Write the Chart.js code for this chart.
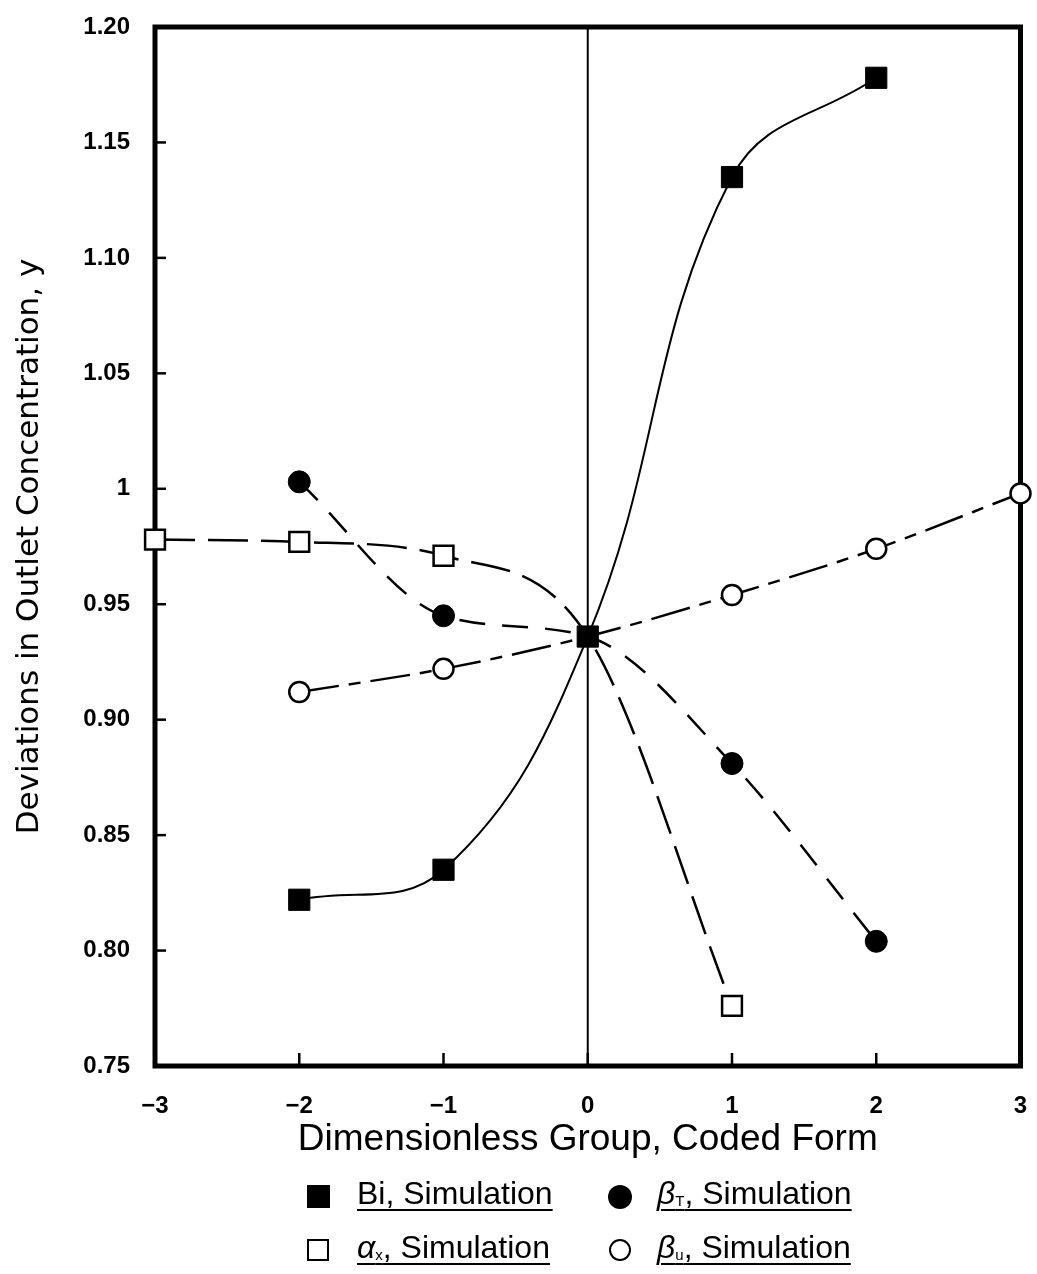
<!DOCTYPE html>
<html>
<head>
<meta charset="utf-8">
<script src="https://cdn.jsdelivr.net/npm/chart.js@4/dist/chart.umd.min.js"></script>
<style>
  html, body { margin: 0; background: #fff; overflow: hidden; }
  #wrap { position: relative; width: 1037px; height: 1274px; }
  #plot { position: absolute; left: 0; top: 0; width: 1037px; height: 1180px; }
  .item { position: absolute; font-family: "Liberation Sans", Arial, sans-serif; font-size: 32px; color: #000; white-space: nowrap; }
  .item span.t { text-decoration: underline; text-decoration-thickness: 2px; text-underline-offset: 5px; }
  .item sub { font-size: 15px; vertical-align: -2px; }
  .mk { position: absolute; box-sizing: border-box; }
</style>
</head>
<body>
<div id="wrap">
  <div id="plot"><canvas id="chart"></canvas></div>

  <div class="mk" style="left:307px;top:1185px;width:23px;height:23px;background:#000;"></div>
  <div class="item" style="left:357px;top:1175px;"><span class="t">Bi, Simulation</span></div>

  <div class="mk" style="left:608px;top:1185px;width:24px;height:24px;border-radius:50%;background:#000;"></div>
  <div class="item" style="left:657px;top:1175px;"><span class="t"><i>β</i><sub>T</sub>, Simulation</span></div>

  <div class="mk" style="left:307px;top:1239px;width:22px;height:22px;border:2.5px solid #000;"></div>
  <div class="item" style="left:357px;top:1229px;"><span class="t"><i>α</i><sub>x</sub>, Simulation</span></div>

  <div class="mk" style="left:609px;top:1239px;width:22px;height:22px;border:2.5px solid #000;border-radius:50%;"></div>
  <div class="item" style="left:657px;top:1229px;"><span class="t"><i>β</i><sub>u</sub>, Simulation</span></div>
</div>

<script>
// values
const xBi = [-2, -1, 0, 1, 2];
const yBi = [0.822, 0.835, 0.936, 1.135, 1.178];

const xBetaT = [-2, -1, 0, 1, 2];
const yBetaT = [1.003, 0.945, 0.936, 0.881, 0.804];

const xAlphaX = [-3, -2, -1, 0, 1];
const yAlphaX = [0.978, 0.977, 0.971, 0.936, 0.776];

const xBetaU = [-2, -1, 0, 1, 2, 3];
const yBetaU = [0.912, 0.922, 0.936, 0.954, 0.974, 0.998];

const xTickValues = [-3, -2, -1, 0, 1, 2, 3];
const xTickLabels = ['\u22123', '\u22122', '\u22121', '0', '1', '2', '3'];
const yTickValues = [0.75, 0.80, 0.85, 0.90, 0.95, 1.00, 1.05, 1.10, 1.15, 1.20];
const yTickLabels = ['0.75', '0.80', '0.85', '0.90', '0.95', '1', '1.05', '1.10', '1.15', '1.20'];

const toPoints = (xs, ys) => xs.map((x, i) => ({ x, y: ys[i] }));

// box, zero line and inward tick marks
const framePlugin = {
  id: 'frame',
  beforeDatasetsDraw(chart) {
    const { ctx, chartArea: a, scales: { x, y } } = chart;
    ctx.save();
    ctx.strokeStyle = '#000';

    ctx.lineWidth = 2;
    const x0 = x.getPixelForValue(0);
    ctx.beginPath();
    ctx.moveTo(x0, a.top);
    ctx.lineTo(x0, a.bottom);
    ctx.stroke();

    ctx.lineWidth = 2.5;
    yTickValues.forEach(v => {
      const py = y.getPixelForValue(v);
      ctx.beginPath();
      ctx.moveTo(a.left, py);
      ctx.lineTo(a.left + 11, py);
      ctx.stroke();
    });
    xTickValues.forEach(v => {
      const px = x.getPixelForValue(v);
      ctx.beginPath();
      ctx.moveTo(px, a.bottom);
      ctx.lineTo(px, a.bottom - 13);
      ctx.stroke();
    });

    ctx.lineWidth = 5;
    ctx.strokeRect(a.left, a.top, a.right - a.left, a.bottom - a.top);
    ctx.restore();
  }
};

const tickFont = { family: 'Liberation Sans', size: 24, weight: 'bold' };

new Chart(document.getElementById('chart').getContext('2d'), {
  type: 'scatter',
  data: {
    datasets: [
      {
        label: 'Bi, Simulation',
        data: toPoints(xBi, yBi),
        showLine: true,
        borderColor: '#000',
        borderWidth: 2,
        backgroundColor: '#000',
        pointStyle: 'rect',
        pointRadius: 15,
        pointBorderWidth: 1,
        tension: 0.4,
        clip: false
      },
      {
        label: 'βT, Simulation',
        data: toPoints(xBetaT, yBetaT),
        showLine: true,
        borderColor: '#000',
        borderWidth: 2.5,
        borderDash: [26, 17],
        backgroundColor: '#000',
        pointStyle: 'circle',
        pointRadius: [11, 11, 0, 11, 11],
        pointBorderWidth: 1,
        cubicInterpolationMode: 'monotone',
        clip: false
      },
      {
        label: 'αx, Simulation',
        data: toPoints(xAlphaX, yAlphaX),
        showLine: true,
        borderColor: '#000',
        borderWidth: 2.5,
        borderDash: [40, 13],
        backgroundColor: '#fff',
        pointStyle: 'rect',
        pointRadius: [14, 14, 14, 0, 14],
        pointBorderWidth: 2.5,
        cubicInterpolationMode: 'monotone',
        clip: false
      },
      {
        label: 'βu, Simulation',
        data: toPoints(xBetaU, yBetaU),
        showLine: true,
        borderColor: '#000',
        borderWidth: 2.5,
        borderDash: [40, 10, 12, 10],
        backgroundColor: '#fff',
        pointStyle: 'circle',
        pointRadius: [10, 10, 0, 10, 10, 10],
        pointBorderWidth: 2.5,
        cubicInterpolationMode: 'monotone',
        clip: false
      }
    ]
  },
  options: {
    responsive: true,
    maintainAspectRatio: false,
    animation: false,
    layout: { padding: { top: 27, right: 0, left: 0, bottom: 0 } },
    scales: {
      x: {
        type: 'linear',
        min: -3,
        max: 3,
        afterBuildTicks: scale => { scale.ticks = xTickValues.map(v => ({ value: v })); },
        afterFit: scale => {
          scale.height = 114;
          scale.paddingLeft = 0;
          scale.paddingRight = 0;
        },
        grid: { display: false },
        border: { display: false },
        ticks: {
          color: '#000',
          font: tickFont,
          padding: 18,
          maxRotation: 0,
          callback: value => xTickLabels[xTickValues.indexOf(value)]
        },
        title: {
          display: true,
          text: 'Dimensionless Group, Coded Form',
          color: '#000',
          font: { family: 'Liberation Sans', size: 37 },
          padding: { top: 0, bottom: 18 }
        }
      },
      y: {
        type: 'linear',
        min: 0.75,
        max: 1.20,
        afterBuildTicks: scale => { scale.ticks = yTickValues.map(v => ({ value: v })); },
        afterFit: scale => {
          scale.width = 155;
          scale.paddingTop = 0;
          scale.paddingBottom = 0;
        },
        grid: { display: false },
        border: { display: false },
        ticks: {
          color: '#000',
          font: tickFont,
          padding: 17,
          callback: value => yTickLabels[yTickValues.findIndex(v => Math.abs(v - value) < 1e-9)]
        },
        title: {
          display: true,
          text: 'Deviations in Outlet Concentration, y',
          color: '#000',
          font: { family: 'DejaVu Sans', size: 31 },
          padding: { top: 11, bottom: 0 }
        }
      }
    },
    plugins: {
      legend: { display: false },
      tooltip: { enabled: false }
    }
  },
  plugins: [framePlugin]
});
</script>
</body>
</html>
